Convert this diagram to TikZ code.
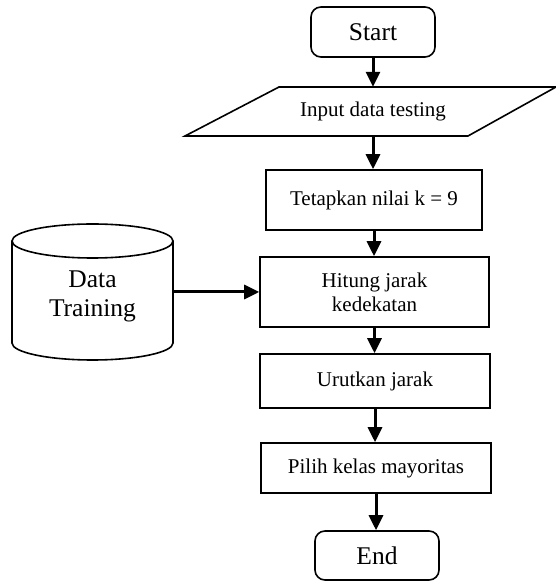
\documentclass[tikz,border=0pt]{standalone}
\usepackage{fontspec}
\setmainfont{Liberation Serif}
\usetikzlibrary{arrows.meta}
\begin{document}
\begin{tikzpicture}[x=1pt,y=1pt,
  smallfont/.style={font=\fontsize{21}{24}\selectfont},
  largefont/.style={font=\fontsize{25.5}{29}\selectfont},
  box/.style={draw, line width=1.6pt, inner sep=0pt, align=center, smallfont},
  term/.style={draw, line width=1.6pt, rounded corners=10pt, minimum width=124pt, minimum height=50pt, inner sep=0pt, largefont},
  outline/.style={line width=1.6pt},
  flow/.style={line width=3pt, -{Triangle[length=15pt,width=14pt]}}]
\useasboundingbox (0,0) rectangle (555,581);

\node[term] (start) at (373,549) {Start};

\draw[outline] (279,494) -- (556,494) -- (468,445) -- (185,445) -- cycle;
\node[smallfont, inner sep=0pt, minimum height=49pt] (input) at (373,469.5) {Input data testing};

\node[box, minimum width=216pt, minimum height=60pt] (tetap) at (374,381) {Tetapkan nilai k = 9};
\node[box, minimum width=229pt, minimum height=70pt] (hitung) at (374.5,289) {Hitung jarak\\kedekatan};
\node[box, minimum width=230pt, minimum height=54pt] (urut) at (375,200) {Urutkan jarak};
\node[box, minimum width=230pt, minimum height=50pt] (pilih) at (376,113) {Pilih kelas mayoritas};
\node[term, minimum height=49pt] (end) at (377,25.5) {End};

% cylinder
\draw[outline] (12,340) -- (12,238) arc[start angle=180, end angle=360, x radius=80.5, y radius=17] -- (173,340);
\draw[outline] (92.5,340) ellipse [x radius=80.5, y radius=17];
\node[largefont, align=center] (data) at (92.5,285) {Data\\Training};
\coordinate (cylR) at (173,289);

\draw[flow] (start.south) -- (start.south |- input.north);
\draw[flow] (input.south) -- (input.south |- tetap.north);
\draw[flow] (tetap.south) -- (tetap.south |- hitung.north);
\draw[flow] (hitung.south) -- (hitung.south |- urut.north);
\draw[flow] (urut.south) -- (urut.south |- pilih.north);
\draw[flow] (pilih.south) -- (pilih.south |- end.north);
\draw[flow] (cylR) -- (hitung.west);
\end{tikzpicture}
\end{document}
